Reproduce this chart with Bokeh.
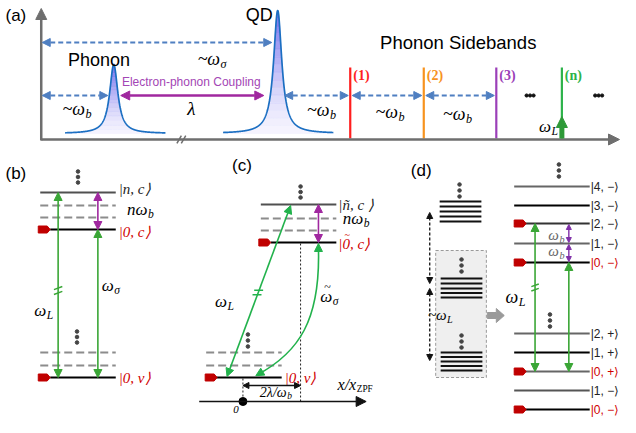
import numpy as np
from bokeh.plotting import figure
from bokeh.models import Range1d, Arrow, NormalHead
from bokeh.core.properties import value
from bokeh.embed import file_html
from bokeh.resources import INLINE

# ---------------- data (positions in reference pixel space) ----------------
# (a) spectrum peaks
peak_names = ["Phonon", "QD"]
peak_center = [114, 279]
peak_height = [69, 123]
peak_gamma = [5.0, 5.0]
peak_left = [65, 224]
peak_right = [166, 335]
spec_base = 133
axis_y = 139
axis_x0 = 41

# (a) sidebands
sb_labels = ["(1)", "(2)", "(3)", "(n)"]
sb_x = [352, 426, 499, 565]
sb_colors = ["#ff1f1f", "#f7931e", "#9b3fb8", "#2db34a"]
sb_top = 67

# (a) ~w_b spacing arrows
sp_x0 = [42, 286, 354, 428]
sp_x1 = [108, 350, 424, 497]
sp_lab_x = [85, 331, 400, 468]
sp_lab_y = [108, 109, 111, 113]
sp_y = 95

# (b) levels
b_lev_y = [192, 205, 217, 229, 352, 365, 377]
b_lev_kind = ["solid", "dash", "dash", "solid", "dash", "dash", "solid"]
b_lev_color = ["#505050", "#8c8c8c", "#8c8c8c", "#000000", "#8c8c8c", "#8c8c8c", "#000000"]
b_x0, b_x1 = 40, 116
b_kets = ["|n, c⟩", "|0, c⟩", "|0, v⟩"]
b_ket_y = [188, 231, 377]
b_ket_col = ["#222222", "#d00000", "#d00000"]

# (c) levels
c_top_y = [204, 218, 230, 242]
c_top_kind = ["solid", "dash", "dash", "solid"]
c_top_color = ["#505050", "#8c8c8c", "#8c8c8c", "#000000"]
c_bot_y = [352, 365, 377]
c_bot_kind = ["dash", "dash", "solid"]
c_bot_color = ["#8c8c8c", "#8c8c8c", "#000000"]
c_kets = ["|ñ, c ⟩", "|0, c⟩", "|0, v⟩"]
c_ket_tilde = [False, True, False]
c_ket_x = [340, 340, 286]
c_ket_y = [204, 243, 377]
c_ket_col = ["#222222", "#d00000", "#d00000"]
c_axis_y = 401

# (d) right ladder
d_lev_y = [186, 205, 223, 243, 262, 333, 352, 371, 390, 409]
d_lev_lab = ["|4, −⟩", "|3, −⟩", "|2, −⟩", "|1, −⟩", "|0, −⟩",
             "|2, +⟩", "|1, +⟩", "|0, +⟩", "|1, −⟩", "|0, −⟩"]
d_lev_col = ["#666666", "#000000", "#333333", "#666666", "#000000",
             "#666666", "#000000", "#666666", "#555555", "#000000"]
d_lab_col = ["#222222", "#222222", "#222222", "#222222", "#d00000",
             "#222222", "#222222", "#d00000", "#222222", "#d00000"]
d_marked = [223, 262, 371, 409]
# (d) left stacks
d_stack1 = [201, 206, 211, 216, 221]
d_stack2 = [278, 283, 288, 292.5, 297]
d_stack3 = [352, 356.5, 361, 365.5, 370]

# ---------------- figure ----------------
p = figure(width=620, height=417, x_range=Range1d(0, 624), y_range=Range1d(417, 0),
           output_backend="svg", toolbar_location=None, x_axis_type=None, y_axis_type=None,
           min_border=0, background_fill_color="white", border_fill_color="white")
p.outline_line_color = None
p.grid.visible = False

SANS = "Liberation Sans"
MATH = "Liberation Serif"
KET = "Liberation Sans"
BLUE = "#4f7fc1"
PURPLE = "#a0289f"
GREEN = "#3aa636"
GREEN_C = "#22b24c"
RED = "#c00000"


def txt(x, y, s, size=14, color="black", font=SANS, style="normal", align="left", baseline="middle"):
    p.text(x=[x], y=[y], text=[s], text_font=value(font), text_font_size=value(f"{size}px"),
           text_color=color, text_font_style=style, text_align=align, text_baseline=baseline)


def msub(xj, y, main, sub, size=16, color="black", substyle="italic", subscale=0.68):
    txt(xj, y, main, size, color, MATH, "italic", "right")
    txt(xj + 0.5, y + size * 0.3, sub, round(size * subscale, 1), color, MATH, substyle, "left")


def arrow(x0, y0, x1, y1, color, width=1.5, dash="solid", head=8, both=True):
    end = NormalHead(size=head, fill_color=color, line_color=color, line_width=1)
    start = NormalHead(size=head, fill_color=color, line_color=color, line_width=1) if both else None
    p.add_layout(Arrow(x_start=x0, y_start=y0, x_end=x1, y_end=y1, line_color=color,
                       line_width=width, line_dash=dash, start=start, end=end))


def hline(x0, x1, y, color, kind, width=2.2):
    dash = "8 4" if kind == "dash" else "solid"
    p.segment(x0=[x0], y0=[y], x1=[x1], y1=[y], line_color=color, line_width=width, line_dash=dash)


tag_xs, tag_ys = [], []


def tag(x0, y):
    tag_xs.append([x0, x0 + 9, x0 + 12, x0 + 9, x0])
    tag_ys.append([y - 3.5, y - 3.5, y, y + 3.5, y + 3.5])


def vdots(x, ys, color="#444444", size=3.6):
    p.scatter(x=[x] * len(ys), y=ys, size=size, color=color, marker="circle")


def brk(cx, cy, ux, uy, color, theta=20, L=9, gap=2.6, width=1.5):
    n = np.hypot(ux, uy)
    ux, uy = ux / n, uy / n
    nx, ny = -uy, ux
    t = np.radians(theta)
    mx, my = nx * np.cos(t) + ux * np.sin(t), ny * np.cos(t) + uy * np.sin(t)
    pts = []
    for s in (-gap, gap):
        px, py = cx + ux * s, cy + uy * s
        pts.append((px - mx * L / 2, py - my * L / 2, px + mx * L / 2, py + my * L / 2))
    (a0, b0, a1, b1), (c0, d0, c1, d1) = pts
    p.patch([a0, a1, c1, c0], [b0, b1, d1, d0], fill_color="white", line_color="white", line_width=1)
    p.segment(x0=[a0, c0], y0=[b0, d0], x1=[a1, c1], y1=[b1, d1], line_color=color, line_width=width)


# ---------------- (a) ----------------
txt(5, 15, "(a)", 17)
arrow(axis_x0, axis_y + 1, axis_x0, 8, "#6e6e6e", width=2.5, head=11, both=False)
arrow(axis_x0, axis_y, 623, axis_y, "#6e6e6e", width=2.5, head=11, both=False)
brk(182, axis_y, 1, 0, "#6e6e6e", theta=150, L=9, gap=2.2, width=1.5)

top_c = np.array([112, 108, 236]) / 255.0
bot_c = np.array([246, 244, 254]) / 255.0
for c, h, g, xl, xr in zip(peak_center, peak_height, peak_gamma, peak_left, peak_right):
    xs = np.linspace(xl, xr, 600)
    Lz = h * g * g / ((xs - c) ** 2 + g * g)
    N = 16
    for i in range(N):
        lo, hi = h * i / N, h * (i + 1) / N
        m = Lz > lo
        if m.sum() < 2:
            continue
        xx = xs[m]
        top = np.minimum(Lz[m], hi)
        f = ((i + 0.5) / N) ** 1.4
        col = bot_c * (1 - f) + top_c * f
        hexcol = "#%02x%02x%02x" % tuple(int(round(v * 255)) for v in col)
        p.patch(np.concatenate([xx, xx[::-1]]),
                spec_base - np.concatenate([top, np.full(len(xx), lo)]),
                fill_color=hexcol, line_color=hexcol, line_width=0.5)
    p.line(xs, spec_base - Lz, line_color="#1b6fc2", line_width=1.7)

txt(68, 59, peak_names[0], 18)
txt(274, 14, peak_names[1], 18, align="right")
txt(382, 42, "Phonon Sidebands", 18.5)

# ~w_sigma
arrow(42, 42, 273, 42, BLUE, width=2, dash="5 3", head=8)
msub(221, 58, "~ω", "σ", 18)
# ~w_b spacings
for x0, x1, lx, ly in zip(sp_x0, sp_x1, sp_lab_x, sp_lab_y):
    arrow(x0, sp_y, x1, sp_y, BLUE, width=2, dash="5 3", head=8)
    msub(lx, ly, "~ω", "b", 18)
# electron-phonon coupling
arrow(121, sp_y, 265, sp_y, PURPLE, width=2.5, head=9)
txt(192, 81, "Electron-phonon Coupling", 12, color="#a346b5", align="center")
txt(192, 108, "λ", 19, font=MATH, style="italic", align="center")

# sidebands
for x, lab, col in zip(sb_x, sb_labels, sb_colors):
    p.segment(x0=[x], y0=[sb_top], x1=[x], y1=[axis_y - 1], line_color=col, line_width=2.2)
    txt(x + 3, 75, lab, 14, color=col, font=MATH, style="bold")
for cx in (533, 602):
    p.scatter(x=[cx - 3.5, cx, cx + 3.5], y=[95, 95, 95], size=3.2, color="#111111", marker="circle")
msub(554, 126, "ω", "L", 17)
arrow(565, axis_y - 1, 565, 116, "#2e9a38", width=5, head=11, both=False)

# ---------------- (b) ----------------
txt(5, 173, "(b)", 17)
for y, k, col in zip(b_lev_y, b_lev_kind, b_lev_color):
    hline(b_x0 if k != "solid" or col != "#000000" else 50, b_x1, y, col, k)
tag(38, 229)
tag(38, 377)
vdots(78, [171, 176.5, 182])
vdots(77, [331, 336.5, 342])
arrow(58, 192, 58, 377, GREEN, width=1.6, head=8)
brk(58, 290, 0, 1, GREEN, theta=20, L=9, gap=2.4)
arrow(98, 229, 98, 377, GREEN, width=1.6, head=8)
arrow(98, 192, 98, 229, PURPLE, width=1.6, head=8)
msub(46, 310, "ω", "L", 17)
msub(114, 285, "ω", "σ", 17)
for s, y, col in zip(b_kets, b_ket_y, b_ket_col):
    txt(119, y, s, 15, color=col, font=MATH, style="italic")
msub(148, 209, "nω", "b", 17)

# ---------------- (c) ----------------
txt(243, 165, "(c)", 17, align="center")
for y, k, col in zip(c_top_y, c_top_kind, c_top_color):
    hline(262 if not (k == "solid" and col == "#000000") else 272, 338, y, col, k)
for y, k, col in zip(c_bot_y, c_bot_kind, c_bot_color):
    hline(207 if k == "dash" else 217, 283, y, col, k)
tag(260, 242)
tag(206, 377)
vdots(302, [186, 191.5, 197])
vdots(249, [334, 340, 346])
p.segment(x0=[302, 244], y0=[243, 378], x1=[302, 244], y1=[c_axis_y, c_axis_y],
          line_color="#222222", line_width=1, line_dash="2 2")
arrow(244, 385, 302, 385, "#111111", width=1.5, head=6)
msub(288, 391.5, "2λ/ω", "b", 14)
arrow(200, c_axis_y, 368, c_axis_y, "#111111", width=1.5, head=10, both=False)
p.scatter(x=[244], y=[c_axis_y], size=8, color="#000000", marker="circle")
txt(237, 409, "0", 11, font=MATH, style="italic", align="center")
msub(358, 384, "x/x", "ZPF", 16, substyle="normal", subscale=0.58)
# laser (straight) arrow
arrow(228, 376, 292, 205, GREEN_C, width=1.6, head=8)
brk(259, 292, 64, -171, GREEN_C, theta=20, L=9, gap=2.4)
msub(228, 301, "ω", "L", 17)
# curved arrow
p.bezier(x0=[320], y0=[248], x1=[259], y1=[374], cx0=[322], cy0=[320], cx1=[300], cy1=[352],
         line_color=GREEN_C, line_width=1.6)
arrow(320, 252, 320, 243, GREEN_C, width=0.1, head=8, both=False)
arrow(263.5, 371.4, 257, 375.2, GREEN_C, width=0.1, head=8, both=False)
arrow(320, 204, 320, 242, PURPLE, width=1.6, head=8)
msub(334, 296, "ω", "σ", 17)
txt(329, 286, "~", 12, font=MATH, align="center")
for s, x, y, col, tl in zip(c_kets, c_ket_x, c_ket_y, c_ket_col, c_ket_tilde):
    txt(x, y, s, 15, color=col, font=MATH, style="italic")
    if tl:
        txt(x + 9, y - 9, "~", 10, color=col, font=MATH, align="center")
msub(365, 218, "nω", "b", 17)

# ---------------- (d) ----------------
txt(413, 170, "(d)", 17)
vdots(462, [184, 190, 196])
p.segment(x0=[442] * 5, y0=d_stack1, x1=[484] * 5, y1=d_stack1, line_color="#111111", line_width=1.8)
p.quad(left=[438], right=[489], top=[250], bottom=[377], fill_color="#efefef",
       line_color="#9a9a9a", line_width=1, line_dash="3 2")
vdots(464, [259, 265, 271])
p.segment(x0=[443] * 5, y0=d_stack2, x1=[485] * 5, y1=d_stack2, line_color="#111111", line_width=1.8)
vdots(464, [335, 341, 347])
p.segment(x0=[443] * 5, y0=d_stack3, x1=[485] * 5, y1=d_stack3, line_color="#111111", line_width=1.8)
arrow(432, 212, 432, 283, "#111111", width=1.3, dash="3 2", head=6)
arrow(432, 288, 432, 360, "#111111", width=1.3, dash="3 2", head=6)
msub(449, 314, "~ω", "L", 15)
p.patch([490, 499, 499, 507, 499, 499, 490], [312, 312, 308, 315, 322, 318, 318],
        fill_color="#9a9a9a", line_color="#9a9a9a")

for y, lab, lc, tc in zip(d_lev_y, d_lev_lab, d_lev_col, d_lab_col):
    hline(517, 593, y, lc, "solid", width=2.2)
    txt(594, y, lab, 12, color=tc, font=KET)
for y in d_marked:
    tag(517, y)
vdots(562, [164, 170, 176])
vdots(553, [314, 320, 326])
arrow(538, 223, 538, 371, GREEN, width=1.6, head=8)
brk(538, 287, 0, 1, GREEN, theta=20, L=8, gap=2.2)
arrow(572, 262, 572, 371, GREEN, width=1.6, head=8)
arrow(572, 224, 572, 242, "#8030a8", width=1.4, head=5)
arrow(572, 244, 572, 261, "#8030a8", width=1.4, head=5)
msub(562, 234, "ω", "b", 15, color="#666666")
msub(562, 250, "ω", "b", 15, color="#666666")
msub(521, 296, "ω", "L", 18)

p.patches(tag_xs, tag_ys, fill_color=RED, line_color=RED, line_width=1)

open("out.html", "w").write(file_html(p, INLINE))
